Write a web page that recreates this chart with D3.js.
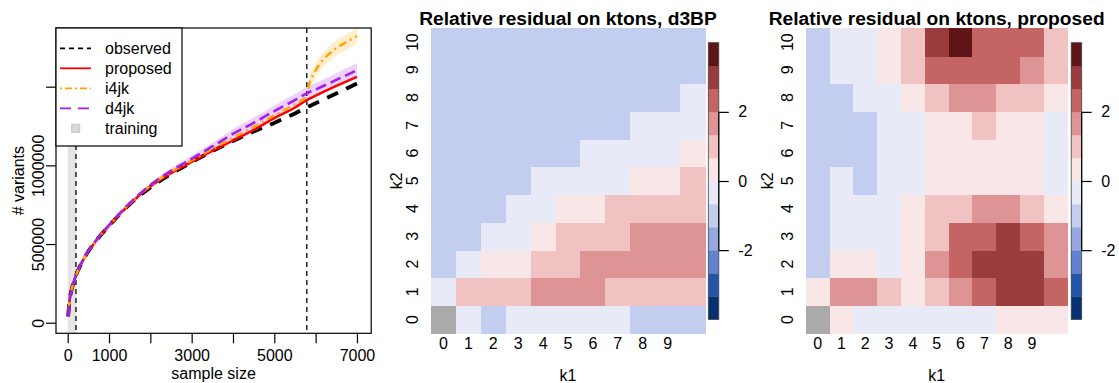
<!DOCTYPE html>
<html><head><meta charset="utf-8">
<script src="https://cdn.jsdelivr.net/npm/d3@7"></script>
<style>
body{margin:0;background:#fff}
svg{display:block}
text{font-family:"Liberation Sans",Arial,Helvetica,sans-serif;fill:#000}
</style>
</head><body>
<svg id="c" width="1119" height="383"></svg>
<script>
// ---------------- DATA ----------------
const sampleSize = [10, 50, 100, 200, 400, 700, 1000, 1500, 2000, 2500, 3000, 3500, 4000, 4500, 5000, 5500, 5787, 6000, 6500, 7000];
const observed   = [40000, 150000, 215000, 300000, 410000, 525000, 615000, 752000, 860000, 945000, 1020000, 1090000, 1155000, 1215000, 1270000, 1330000, 1369000, 1395000, 1457000, 1520000];
const proposed   = [40000, 150000, 215000, 300000, 410000, 525000, 615000, 752000, 865000, 950000, 1022000, 1092000, 1158000, 1225000, 1300000, 1368000, 1415000, 1443000, 1505000, 1563000];
const d4jk       = [38000, 150000, 215000, 300000, 412000, 528000, 620000, 760000, 875000, 965000, 1042000, 1120000, 1200000, 1270000, 1345000, 1415000, 1458000, 1482000, 1543000, 1605000];
const d4jkLower  = [38000, 150000, 215000, 300000, 411000, 526000, 616000, 752000, 863000, 949000, 1022000, 1096000, 1170000, 1236000, 1309000, 1377000, 1418000, 1442000, 1501000, 1561000];
const d4jkUpper  = [38000, 150000, 215000, 300000, 413000, 530000, 624000, 768000, 887000, 981000, 1062000, 1144000, 1230000, 1304000, 1381000, 1453000, 1498000, 1522000, 1585000, 1649000];
const i4jkSize   = [10, 50, 100, 200, 400, 700, 1000, 1500, 2000, 2500, 3000, 3500, 4000, 4500, 5000, 5500, 5787, 5850, 5950, 6100, 6300, 6500, 6750, 7000];
const i4jk       = [40000, 150000, 215000, 300000, 411000, 526000, 617000, 756000, 870000, 958000, 1032000, 1105000, 1175000, 1245000, 1318000, 1390000, 1440000, 1520000, 1580000, 1645000, 1702000, 1745000, 1785000, 1821000];
const i4jkBandSize = [5787, 5850, 5950, 6100, 6300, 6500, 6750, 7000];
const i4jkLower  = [1430000, 1485000, 1535000, 1598000, 1655000, 1697000, 1737000, 1771000];
const i4jkUpper  = [1450000, 1555000, 1625000, 1692000, 1749000, 1793000, 1833000, 1871000];
const trainingRange = [0, 210];
const trainingCut = 200;
const observedCut = 5787;
const xTicks = [0, 1000, 2000, 3000, 4000, 5000, 6000, 7000];
const xTickLabels = ["0", "1000", "", "3000", "", "5000", "", "7000"];
const yTicks = [0, 500000, 1000000, 1500000];
const yTickLabels = ["0", "500000", "1000000", ""];
const legendLabels = ["observed", "proposed", "i4jk", "d4jk", "training"];

// heatmaps: rows k2 = 0..10, columns k1 = 0..10 (null = missing)
const k1Labels = ["0","1","2","3","4","5","6","7","8","9"];
const k2Labels = ["0","1","2","3","4","5","6","7","8","9","10"];
const residD3BP = [
  [null,-0.3,-1,-0.3,-0.3,-0.3,-0.3,-0.3,-1,-1,-1],
  [-0.3,1,1,1,1.7,1.7,1.7,1,1,1,1],
  [-1,-0.3,0.3,0.3,1,1,1.7,1.7,1.7,1.7,1.7],
  [-1,-1,-0.3,-0.3,0.3,1,1,1,1.7,1.7,1.7],
  [-1,-1,-1,-0.3,-0.3,0.3,0.3,1,1,1,1],
  [-1,-1,-1,-1,-0.3,-0.3,-0.3,-0.3,0.3,0.3,1],
  [-1,-1,-1,-1,-1,-1,-0.3,-0.3,-0.3,-0.3,0.3],
  [-1,-1,-1,-1,-1,-1,-1,-1,-0.3,-0.3,-0.3],
  [-1,-1,-1,-1,-1,-1,-1,-1,-1,-1,-0.3],
  [-1,-1,-1,-1,-1,-1,-1,-1,-1,-1,-1],
  [-1,-1,-1,-1,-1,-1,-1,-1,-1,-1,-1]
];
const residProposed = [
  [null,0.3,-0.3,-0.3,-0.3,-0.3,-0.3,-0.3,0.3,0.3,0.3],
  [0.3,1.7,1.7,1,0.3,1,1.7,2.3,3,3,2.3],
  [-1,0.3,0.3,-0.3,0.3,1.7,2.3,3,3,3,1.7],
  [-1,-0.3,-0.3,-0.3,0.3,1,2.3,2.3,3,2.3,1.7],
  [-1,-0.3,-0.3,-0.3,0.3,1,1,1.7,1.7,1,0.3],
  [-1,-0.3,-1,-0.3,-0.3,0.3,0.3,0.3,0.3,0.3,-0.3],
  [-1,-1,-1,-0.3,-0.3,0.3,0.3,0.3,0.3,0.3,-0.3],
  [-1,-1,-1,-0.3,-0.3,0.3,0.3,1,0.3,0.3,-0.3],
  [-1,-1,-0.3,-0.3,0.3,1,1.7,1.7,1,1,0.3],
  [-1,-0.3,-0.3,0.3,1,2.3,2.3,2.3,2.3,1.7,1],
  [-1,-0.3,-0.3,0.3,1,3,3.7,2.3,2.3,2.3,1]
];
const colorBreaks = [-4,-10/3,-8/3,-2,-4/3,-2/3,0,2/3,4/3,2,8/3,10/3,4];
const colorBins = ["#063070","#2356a8","#6282cf","#95a8e0","#c2cdef","#e8eaf7","#f9e7e7","#f0c2c2","#de9394","#c56465","#9a3b3d","#5f1518"];
const colorbarTicks = [-2, 0, 2];
const naColor = "#aaaaaa";

// ---------------- DRAW ----------------
const svg = d3.select("#c");
const FS = 16;

// ===== left panel =====
const L = {x0:56, x1:371.2, y0:28, y1:333.3};
const xL = d3.scaleLinear().domain([-283, 7345]).range([L.x0, L.x1]);
const yL = d3.scaleLinear().domain([-67300, 1873000]).range([L.y1, L.y0]);

svg.append("clipPath").attr("id","clipL").append("rect")
  .attr("x",L.x0).attr("y",L.y0).attr("width",L.x1-L.x0).attr("height",L.y1-L.y0);
const gL = svg.append("g").attr("clip-path","url(#clipL)");

gL.append("rect").attr("x",xL(trainingRange[0])).attr("y",L.y0)
  .attr("width",xL(trainingRange[1])-xL(trainingRange[0])).attr("height",L.y1-L.y0)
  .attr("fill","#e5e5e5");

const area = (xs, lo, hi) => d3.area().curve(d3.curveMonotoneX)
  .x((d,i)=>xL(xs[i])).y0((d,i)=>yL(lo[i])).y1((d,i)=>yL(hi[i]))(lo);
gL.append("path").attr("d",area(sampleSize,d4jkLower,d4jkUpper)).attr("fill","rgba(160,32,240,0.2)");
gL.append("path").attr("d",area(i4jkBandSize,i4jkLower,i4jkUpper)).attr("fill","rgba(255,165,0,0.2)");

[trainingCut, observedCut].forEach(v=>{
  gL.append("line").attr("x1",xL(v)).attr("x2",xL(v)).attr("y1",L.y0).attr("y2",L.y1)
    .attr("stroke","#000").attr("stroke-width",1.3).attr("stroke-dasharray","5,4");
});

const line = (xs, ys) => d3.line().curve(d3.curveMonotoneX).x((d,i)=>xL(xs[i])).y(d=>yL(d))(ys);
gL.append("path").attr("d",line(sampleSize,observed)).attr("fill","none")
  .attr("stroke","#000").attr("stroke-width",3.8).attr("stroke-dasharray","12,9");
gL.append("path").attr("d",line(sampleSize,proposed)).attr("fill","none")
  .attr("stroke","#ff0000").attr("stroke-width",2.5);
gL.append("path").attr("d",line(i4jkSize,i4jk)).attr("fill","none")
  .attr("stroke","#ffa500").attr("stroke-width",2.5).attr("stroke-dasharray","2,4,8,4");
gL.append("path").attr("d",line(sampleSize,d4jk)).attr("fill","none")
  .attr("stroke","#a020f0").attr("stroke-width",2.6).attr("stroke-dasharray","11,5");

// box
svg.append("rect").attr("x",L.x0).attr("y",L.y0).attr("width",L.x1-L.x0).attr("height",L.y1-L.y0)
  .attr("fill","none").attr("stroke","#000").attr("stroke-width",1.2);

// x axis
const ax = svg.append("g").attr("transform",`translate(0,${L.y1})`)
  .call(d3.axisBottom(xL).tickValues(xTicks).tickSize(10).tickPadding(6)
    .tickFormat((d,i)=>xTickLabels[i]));
ax.select(".domain").remove();
ax.selectAll("line").attr("stroke","#000").attr("stroke-width",1.2);
ax.selectAll("text").attr("font-size",FS).attr("font-family","Liberation Sans, Arial, sans-serif");

// y axis
const ay = svg.append("g").attr("transform",`translate(${L.x0},0)`)
  .call(d3.axisLeft(yL).tickValues(yTicks).tickSize(10).tickFormat((d,i)=>yTickLabels[i]));
ay.select(".domain").remove();
ay.selectAll("line").attr("stroke","#000").attr("stroke-width",1.2);
ay.selectAll("text").attr("font-size",FS).attr("font-family","Liberation Sans, Arial, sans-serif")
  .attr("transform","rotate(-90)").attr("x",0).attr("y",-12).attr("dy",0).attr("text-anchor","middle");

svg.append("text").attr("x",(L.x0+L.x1)/2).attr("y",379).attr("text-anchor","middle")
  .attr("font-size",FS).text("sample size");
svg.append("text").attr("transform",`translate(24,${(L.y0+L.y1)/2}) rotate(-90)`)
  .attr("text-anchor","middle").attr("font-size",FS).text("# variants");

// legend
const lg = svg.append("g");
lg.append("rect").attr("x",L.x0).attr("y",L.y0).attr("width",126).attr("height",118)
  .attr("fill","#fff").attr("stroke","#000").attr("stroke-width",1.2);
const legStyles = [
  {stroke:"#000", dash:"5,4"},
  {stroke:"#ff0000", dash:null},
  {stroke:"#ffa500", dash:"2,3,7,3"},
  {stroke:"#a020f0", dash:"11,7"},
  null
];
legendLabels.forEach((lab,i)=>{
  const cy = 48.3 + i*20;
  const s = legStyles[i];
  if (s) {
    lg.append("line").attr("x1",60).attr("x2",91).attr("y1",cy).attr("y2",cy)
      .attr("stroke",s.stroke).attr("stroke-width",1.8).attr("stroke-dasharray",s.dash);
  } else {
    lg.append("rect").attr("x",71.7).attr("y",cy-4).attr("width",8).attr("height",8)
      .attr("fill","#d9d9d9").attr("stroke","#c4c4c4").attr("stroke-width",1);
  }
  lg.append("text").attr("x",105).attr("y",cy+6).attr("font-size",FS).text(lab);
});

// ===== heatmaps =====
const colorScale = d3.scaleThreshold().domain(colorBreaks.slice(1,-1)).range(colorBins);

function heat(matrix, title, P) {
  const xs = d3.scaleBand().domain(d3.range(11)).range([P.x0, P.x1]);
  const ys = d3.scaleBand().domain(d3.range(11)).range([P.y1, P.y0]);
  const g = svg.append("g").attr("shape-rendering","crispEdges");
  matrix.forEach((row, k2) => row.forEach((v, k1) => {
    g.append("rect").attr("x", xs(k1)).attr("y", ys(k2))
      .attr("width", xs.bandwidth()+0.5).attr("height", ys.bandwidth()+0.5)
      .attr("fill", v === null ? naColor : colorScale(v));
  }));
  const axb = svg.append("g").attr("transform",`translate(0,${P.y1})`)
    .call(d3.axisBottom(xs).tickValues(d3.range(10)).tickSize(0).tickPadding(4)
      .tickFormat(d=>k1Labels[d]));
  axb.select(".domain").remove();
  axb.selectAll("text").attr("font-size",FS).attr("font-family","Liberation Sans, Arial, sans-serif");
  const ayl = svg.append("g").attr("transform",`translate(${P.x0},0)`)
    .call(d3.axisLeft(ys).tickValues(d3.range(11)).tickSize(0).tickFormat(d=>k2Labels[d]));
  ayl.select(".domain").remove();
  ayl.selectAll("text").attr("font-size",FS).attr("font-family","Liberation Sans, Arial, sans-serif")
    .attr("transform","rotate(-90)").attr("x",0).attr("y",-(P.x0-P.ylabBase)).attr("dy",0)
    .attr("text-anchor","middle");
  svg.append("text").attr("x",(P.x0+P.x1)/2).attr("y",381).attr("text-anchor","middle")
    .attr("font-size",FS).text("k1");
  svg.append("text").attr("transform",`translate(${P.k2Base},${(P.y0+P.y1)/2}) rotate(-90)`)
    .attr("text-anchor","middle").attr("font-size",FS).text("k2");
  svg.append("text").attr("x",(P.x0+P.x1)/2).attr("y",24.5).attr("text-anchor","middle")
    .attr("font-size",19.2).attr("font-weight","bold").text(title);
  const cb = d3.scaleLinear().domain([colorBreaks[0], colorBreaks[colorBreaks.length-1]]).range([319.3, 42.7]);
  const cg = svg.append("g");
  colorBins.forEach((c,i)=>{
    cg.append("rect").attr("x",P.cb0).attr("y",cb(colorBreaks[i+1]))
      .attr("width",P.cb1-P.cb0).attr("height",cb(colorBreaks[i])-cb(colorBreaks[i+1])+0.3)
      .attr("fill",c);
  });
  cg.append("rect").attr("x",P.cb0).attr("y",cb(4)).attr("width",P.cb1-P.cb0).attr("height",cb(-4)-cb(4))
    .attr("fill","none").attr("stroke","#444").attr("stroke-width",0.8);
  const ca = svg.append("g").attr("transform",`translate(${P.cb1},0)`)
    .call(d3.axisRight(cb).tickValues(colorbarTicks).tickSize(10).tickPadding(9.5).tickFormat(d3.format("d")));
  ca.select(".domain").attr("d",`M0,${cb(colorbarTicks[0])}V${cb(colorbarTicks[colorbarTicks.length-1])}`)
    .attr("stroke","#000").attr("stroke-width",1.2);
  ca.selectAll("line").attr("stroke","#000").attr("stroke-width",1.2);
  ca.selectAll("text").attr("font-size",FS).attr("font-family","Liberation Sans, Arial, sans-serif")
    .text(d => d < 0 ? "-" + Math.abs(d) : String(d));
}

heat(residD3BP, "Relative residual on ktons, d3BP",
  {x0:431, x1:705, y0:28.3, y1:333.3, ylabBase:418.3, k2Base:401.7, cb0:708.3, cb1:718.8});
heat(residProposed, "Relative residual on ktons, proposed",
  {x0:805.7, x1:1067.7, y0:28.3, y1:333.3, ylabBase:793.3, k2Base:772.7, cb0:1071.2, cb1:1081.7});
</script>
</body></html>
